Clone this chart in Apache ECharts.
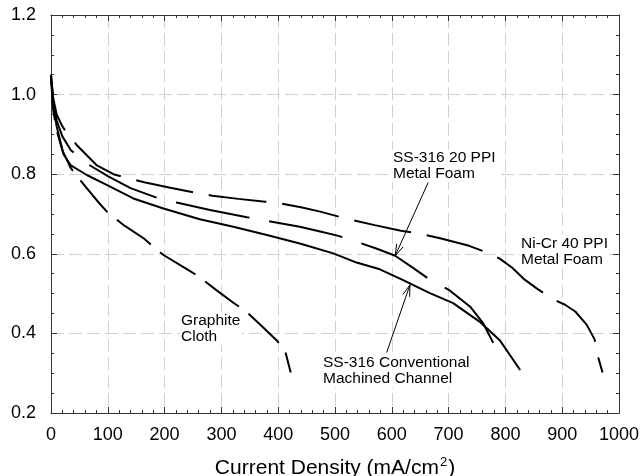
<!DOCTYPE html>
<html>
<head>
<meta charset="utf-8">
<script src="https://cdn.jsdelivr.net/npm/echarts@6/dist/echarts.min.js"></script>
<style>
html,body{margin:0;padding:0;background:#fff;}
#chart{width:640px;height:476px;}
</style>
</head>
<body>
<div id="chart"></div>
<script>
// ---- data (x = current density mA/cm2, y = cell voltage V) ----
var niCrX   = [0, 4, 10, 20, 30, 46, 80, 110, 136, 164, 210, 256, 284, 330, 377, 403, 440, 474, 523, 570, 616, 644, 685, 736, 764, 790, 812, 834, 855, 884, 905, 923, 943, 957, 964, 971];
var niCrY   = [1.05, 0.99, 0.95, 0.92, 0.90, 0.872, 0.823, 0.80, 0.79, 0.78, 0.766, 0.753, 0.746, 0.738, 0.731, 0.727, 0.717, 0.706, 0.687, 0.672, 0.658, 0.652, 0.639, 0.620, 0.605, 0.588, 0.565, 0.535, 0.513, 0.486, 0.472, 0.455, 0.422, 0.385, 0.337, 0.302];

var ppi20X  = [0, 4, 10, 20, 35, 63, 100, 140, 186, 221, 280, 345, 383, 438, 474, 506, 543, 575, 606, 638, 665, 702, 738, 761, 779, 789];
var ppi20Y  = [1.05, 0.98, 0.935, 0.895, 0.86, 0.827, 0.795, 0.765, 0.741, 0.729, 0.71, 0.692, 0.682, 0.668, 0.656, 0.645, 0.628, 0.612, 0.595, 0.564, 0.537, 0.508, 0.467, 0.425, 0.375, 0.343];

var convX   = [0, 4, 10, 22, 35, 63, 98, 145, 198, 262, 321, 380, 438, 497, 538, 579, 620, 667, 708, 755, 790, 826];
var convY   = [1.05, 0.97, 0.92, 0.85, 0.822, 0.798, 0.773, 0.739, 0.714, 0.687, 0.668, 0.647, 0.626, 0.601, 0.578, 0.561, 0.534, 0.501, 0.476, 0.429, 0.383, 0.308];

var graphX  = [0, 4, 10, 20, 35, 60, 85, 101, 130, 163, 180, 198, 242, 259, 290, 321, 342, 370, 397, 412, 422];
var graphY  = [1.04, 0.96, 0.91, 0.86, 0.815, 0.77, 0.727, 0.702, 0.67, 0.639, 0.618, 0.597, 0.559, 0.544, 0.51, 0.477, 0.457, 0.42, 0.383, 0.357, 0.302];

var xTicks = [0, 100, 200, 300, 400, 500, 600, 700, 800, 900, 1000];
var yTicks = [0.2, 0.4, 0.6, 0.8, 1.0, 1.2];

// annotation arrows: [tailX, tailY, tipX, tipY] in data units
var arrowLines = [[664, 0.779, 606, 0.595], [591, 0.352, 632, 0.522]];

function pairs(xs, ys){ return xs.map(function(x,i){ return [x, ys[i]]; }); }

var FONT = '"Liberation Sans", Arial, Helvetica, sans-serif';
var axisCol = '#333';

var chart = echarts.init(document.getElementById('chart'), null, {renderer:'canvas'});

function lineSeries(name, xs, ys, dash, offset){
  return {
    name: name, type: 'line', data: pairs(xs, ys),
    showSymbol: false, symbol: 'none', smooth: false, animation: false,
    lineStyle: { color: '#000', width: 2, type: dash, dashOffset: offset || 0, cap: 'butt' },
    xAxisIndex: 0, yAxisIndex: 0, z: 3
  };
}

var baseTick = { show: true, inside: true, length: 6, lineStyle: { color: axisCol, width: 1 } };
var baseMinor = { show: true, length: 3, lineStyle: { color: axisCol, width: 1 } };

var option = {
  animation: false,
  backgroundColor: '#fff',
  textStyle: { fontFamily: FONT },
  grid: { left: 51, right: 21, top: 15, bottom: 63, containLabel: false, outerBoundsMode: 'none' },
  xAxis: [
    {
      type: 'value', min: xTicks[0], max: xTicks[xTicks.length-1], interval: 100, position: 'bottom',
      name: '{t|Current Density (mA/cm}{s|2}{t|)}', nameLocation: 'middle', nameGap: 43,
      nameTextStyle: { fontSize: 21, color: '#000', fontFamily: FONT,
        rich: { t: { fontSize: 21, color: '#000', fontFamily: FONT, lineHeight: 24 },
                s: { fontSize: 13, color: '#000', fontFamily: FONT, verticalAlign: 'top', lineHeight: 24, padding: [0, 1, 0, 1] } } },
      axisLine: { show: true, onZero: false, lineStyle: { color: axisCol, width: 1 } },
      axisTick: baseTick,
      minorTick: Object.assign({ splitNumber: 5 }, baseMinor),
      axisLabel: { fontSize: 18, color: '#000', margin: 13, fontFamily: FONT,
        formatter: function(v){ return String(v); } },
      splitLine: { show: true, lineStyle: { color: '#d2d2d2', width: 1, type: [13, 5] } }
    },
    {
      type: 'value', min: xTicks[0], max: xTicks[xTicks.length-1], interval: 100, position: 'top',
      axisLine: { show: true, onZero: false, lineStyle: { color: axisCol, width: 1 } },
      axisTick: baseTick,
      minorTick: Object.assign({ splitNumber: 5 }, baseMinor),
      axisLabel: { show: false }, splitLine: { show: false }
    }
  ],
  yAxis: [
    {
      type: 'value', min: yTicks[0], max: yTicks[yTicks.length-1], interval: 0.2, position: 'left',
      axisLine: { show: true, onZero: false, lineStyle: { color: axisCol, width: 1 } },
      axisTick: baseTick,
      minorTick: Object.assign({ splitNumber: 4 }, baseMinor),
      axisLabel: { fontSize: 18, color: '#000', margin: 15, fontFamily: FONT,
        formatter: function(v){ return v.toFixed(1); } },
      splitLine: { show: true, lineStyle: { color: '#d2d2d2', width: 1, type: [13, 5] } }
    },
    {
      type: 'value', min: yTicks[0], max: yTicks[yTicks.length-1], interval: 0.2, position: 'right',
      axisLine: { show: true, onZero: false, lineStyle: { color: axisCol, width: 1 } },
      axisTick: baseTick,
      minorTick: Object.assign({ splitNumber: 4 }, baseMinor),
      axisLabel: { show: false }, splitLine: { show: false }
    }
  ],
  series: [
    lineSeries('Ni-Cr 40 PPI Metal Foam', niCrX, niCrY, [58, 16], 0),
    lineSeries('SS-316 20 PPI Metal Foam', ppi20X, ppi20Y, [75, 20], 87),
    lineSeries('SS-316 Conventional Machined Channel', convX, convY, 'solid', 0),
    lineSeries('Graphite Cloth', graphX, graphY, [42, 12], 0),
    {
      type: 'custom', name: 'arrows', coordinateSystem: 'cartesian2d',
      xAxisIndex: 0, yAxisIndex: 0, z: 4, silent: true,
      encode: { x: [0, 2], y: [1, 3] },
      data: arrowLines,
      renderItem: function(params, api){
        var p1 = api.coord([api.value(0), api.value(1)]);
        var p2 = api.coord([api.value(2), api.value(3)]);
        var ang = Math.atan2(p2[1]-p1[1], p2[0]-p1[0]);
        var L = 12, a = 0.3;
        var h1 = [p2[0]-L*Math.cos(ang-a), p2[1]-L*Math.sin(ang-a)];
        var h2 = [p2[0]-L*Math.cos(ang+a), p2[1]-L*Math.sin(ang+a)];
        return { type: 'group', children: [
          { type: 'line', shape: { x1: p1[0], y1: p1[1], x2: p2[0], y2: p2[1] }, style: { stroke: '#000', lineWidth: 1 } },
          { type: 'polyline', shape: { points: [h1, p2, h2] }, style: { stroke: '#000', lineWidth: 1, fill: null } }
        ]};
      }
    }
  ],
  graphic: [
    { type: 'text', left: 392, top: 150, z: 2, style: { text: 'SS-316 20 PPI\nMetal Foam', font: '15.5px ' + FONT, fill: '#000', lineHeight: 16, backgroundColor: '#fff', padding: [0, 1] } },
    { type: 'text', left: 520, top: 235, z: 2, style: { text: 'Ni-Cr 40 PPI\nMetal Foam', font: '15.5px ' + FONT, fill: '#000', lineHeight: 16.5, backgroundColor: '#fff', padding: [0, 1] } },
    { type: 'text', left: 322, top: 354, z: 2, style: { text: 'SS-316 Conventional\nMachined Channel', font: '15.5px ' + FONT, fill: '#000', lineHeight: 16.5, backgroundColor: '#fff', padding: [0, 1] } },
    { type: 'text', left: 180, top: 312, z: 2, style: { text: 'Graphite\nCloth', font: '15.5px ' + FONT, fill: '#000', lineHeight: 16.5, backgroundColor: '#fff', padding: [0, 1] } }
  ]
};
chart.setOption(option);
</script>
</body>
</html>
